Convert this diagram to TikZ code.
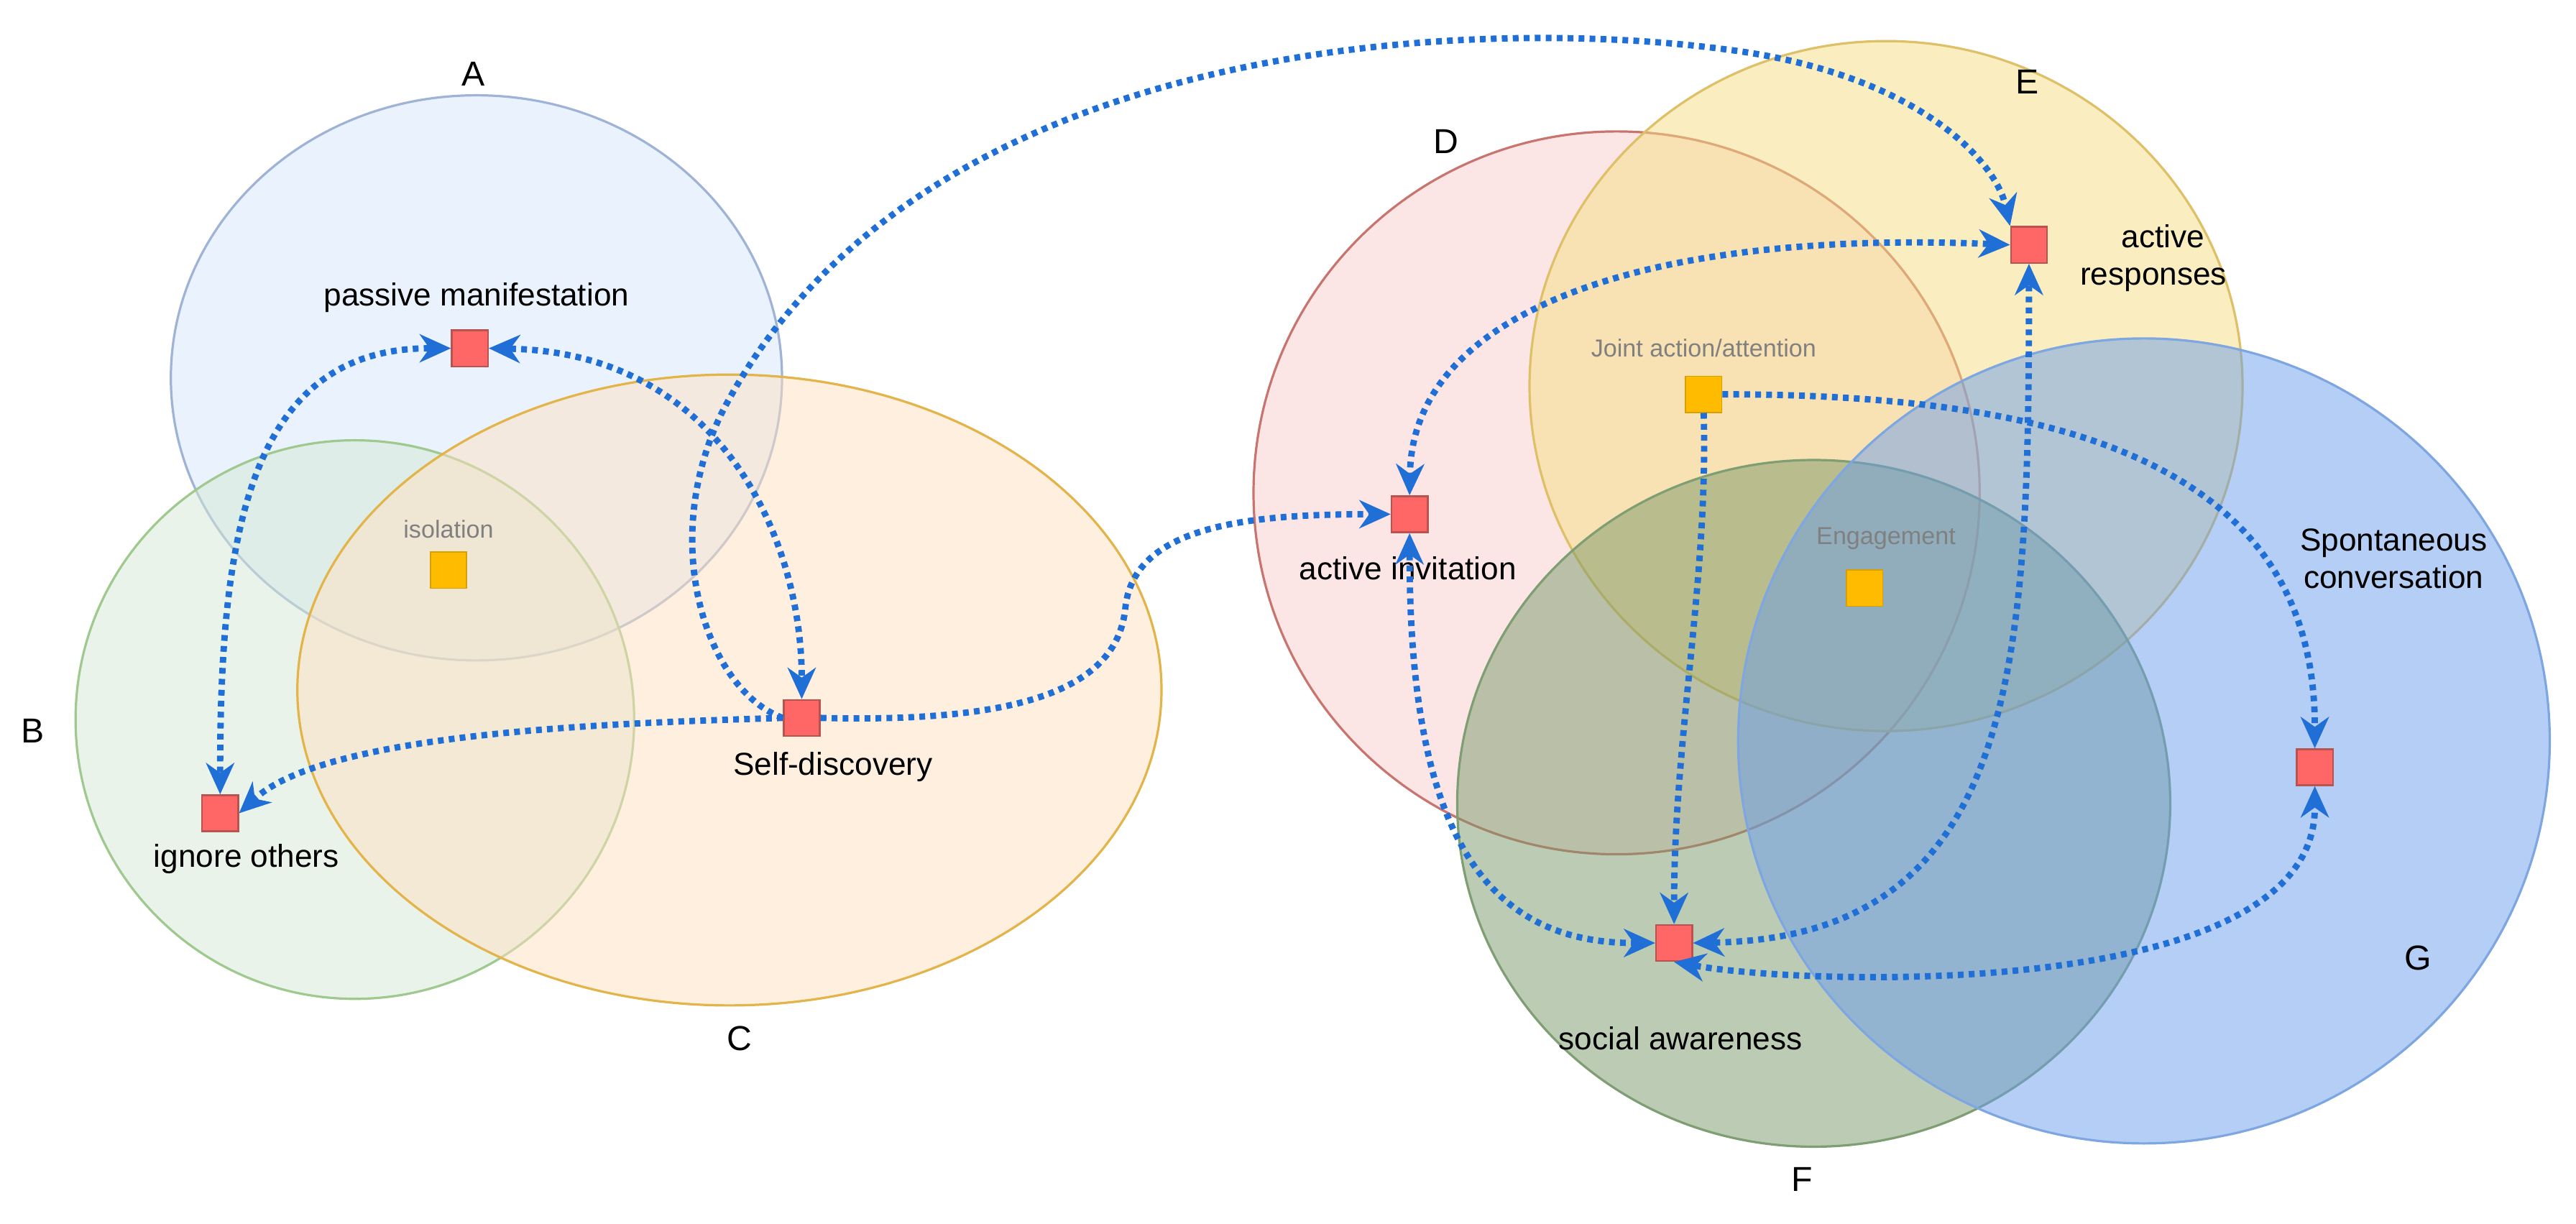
\documentclass[tikz,border=0pt]{standalone}
\usepackage{fontspec}
\setmainfont{Liberation Sans}
\usetikzlibrary{arrows.meta}
\definecolor{conn}{HTML}{1F6FD6}
\definecolor{aS}{HTML}{9FB3D6}\definecolor{aF}{HTML}{D6E6FB}
\definecolor{bS}{HTML}{9FC98F}\definecolor{bF}{HTML}{D5E8D4}
\definecolor{cS}{HTML}{E3B44A}\definecolor{cF}{HTML}{FFE0C0}
\definecolor{dS}{HTML}{C87570}\definecolor{dF}{HTML}{F8CECC}
\definecolor{eS}{HTML}{DDC067}\definecolor{eF}{HTML}{F5DC80}
\definecolor{fS}{HTML}{7F9E73}\definecolor{fF}{HTML}{7A9A6A}
\definecolor{gS}{HTML}{7EA6E0}\definecolor{gF}{HTML}{6A9EEB}
\definecolor{sqR}{HTML}{FF6666}\definecolor{sqRs}{HTML}{B85450}
\definecolor{sqO}{HTML}{FFBB00}\definecolor{sqOs}{HTML}{D6A000}
\begin{document}
\begin{tikzpicture}[x=0.02cm,y=-0.02cm,
  ell/.style={line width=0.8pt,fill opacity=0.5},
  red/.style={draw=sqRs,fill=sqR,minimum size=0.44cm,inner sep=0pt,line width=0.6pt},
  org/.style={draw=sqOs,fill=sqO,minimum size=0.44cm,inner sep=0pt,line width=0.4pt},
  lab/.style={font=\fontsize{11}{13}\selectfont},
  big/.style={font=\fontsize{12}{14}\selectfont},
  gray/.style={font=\fontsize{8.5}{10}\selectfont,text=gray},
  con/.style={conn,line width=2.2pt,dash pattern=on 2pt off 1.8pt},
  st/.style={Stealth[length=11pt,width=10pt,line width=0pt,sep=0pt]},
  tip/.style={-{Stealth[length=11pt,width=10pt,line width=0pt]}},
  tips/.style={{Stealth[length=11pt,width=10pt,line width=0pt]}-{Stealth[length=11pt,width=10pt,line width=0pt]}}]
\useasboundingbox (0,0) rectangle (1568,745);
% ellipses
\draw[ell,draw=aS,fill=aF] (290,230) ellipse [x radius=186,y radius=172];
\draw[ell,draw=bS,fill=bF] (216,438) ellipse [x radius=170,y radius=170];
\draw[ell,draw=cS,fill=cF] (444,420) ellipse [x radius=263,y radius=192];
\draw[ell,draw=dS,fill=dF] (984,300) ellipse [x radius=221,y radius=220];
\draw[ell,draw=eS,fill=eF] (1148,235) ellipse [x radius=217,y radius=210];
\fill[fill=fF,fill opacity=0.5] (1104,489) ellipse [x radius=217,y radius=209];
\draw[line width=0.8pt,draw=fS] (1104,489) ellipse [x radius=217,y radius=209];
\fill[fill=gF,fill opacity=0.5] (1305,451) ellipse [x radius=247,y radius=245];
\draw[line width=0.8pt,draw=gS] (1305,451) ellipse [x radius=247,y radius=245];
% letters
\node[big] (lA) at (288,45) {A};
\node[big] (lB) at (20,445) {B};
\node[big] (lC) at (450,632) {C};
\node[big] (lD) at (880,86) {D};
\node[big] (lE) at (1234,50) {E};
\node[big] (lF) at (1097,718) {F};
\node[big] (lG) at (1472,583) {G};
% squares
\node[red] (pm) at (286,212) {};
\node[red] (io) at (134,495) {};
\node[red] (sd) at (488,437) {};
\node[red] (ai) at (858,313) {};
\node[red] (ar) at (1235,149) {};
\node[red] (sa) at (1019,574) {};
\node[red] (sc) at (1409,467) {};
\node[org] (is) at (273,347) {};
\node[org] (ja) at (1037,240) {};
\node[org] (en) at (1135,358) {};
% texts
\node[lab] (tpm) at (290,181) {passive manifestation};
\node[lab] (tio) at (150,523) {ignore others};
\node[lab] (tsd) at (507,467) {Self-discovery};
\node[gray] (tis) at (273,322) {isolation};
\node[lab] (tai) at (857,346) {active invitation};
\node[lab,align=left,anchor=west] (tar) at (1260,157) {\hspace*{1.3em}active\\responses};
\node[gray] (tja) at (1037,212) {Joint action/attention};
\node[gray] (ten) at (1148,328) {Engagement};
\node[lab,align=center] (tsc) at (1457,340) {Spontaneous\\conversation};
\node[lab] (tsa) at (1023,632) {social awareness};
% connectors
\begin{scope}[every path/.append style={}]
\draw[con,tips] (pm.west) .. controls (150,212) and (134,330) .. (io.north);
\draw[con,tips] (pm.east) .. controls (440,215) and (488,330) .. (sd.north);
\draw[con,tip] (sd.west) .. controls (380,440) and (200,445) .. (io.east);
\draw[con,tip] (sd.west) .. controls (430,420) and (400,330) .. (440,250) .. controls (560,20) and (900,10) .. (1050,30) .. controls (1170,45) and (1215,100) .. (ar.north west);
\draw[con,tip] (sd.east) .. controls (620,440) and (680,420) .. (685,370) .. controls (690,320) and (760,313) .. (ai.west);
\draw[con,tips] (ar.west) .. controls (1000,140) and (860,190) .. (ai.north);
\draw[con,tips] (ai.south) .. controls (858,500) and (900,574) .. (sa.west);
\draw[con,tip] (ja.south) .. controls (1040,350) and (1019,450) .. (sa.north);
\draw[con,tip] (ja.east) .. controls (1250,240) and (1409,280) .. (sc.north);
\draw[con,tips] (sa.east) .. controls (1230,570) and (1235,400) .. (ar.south);
\draw[con,tips] (sa.south) .. controls (1100,600) and (1409,610) .. (sc.south);
\end{scope}
\end{tikzpicture}
\end{document}
